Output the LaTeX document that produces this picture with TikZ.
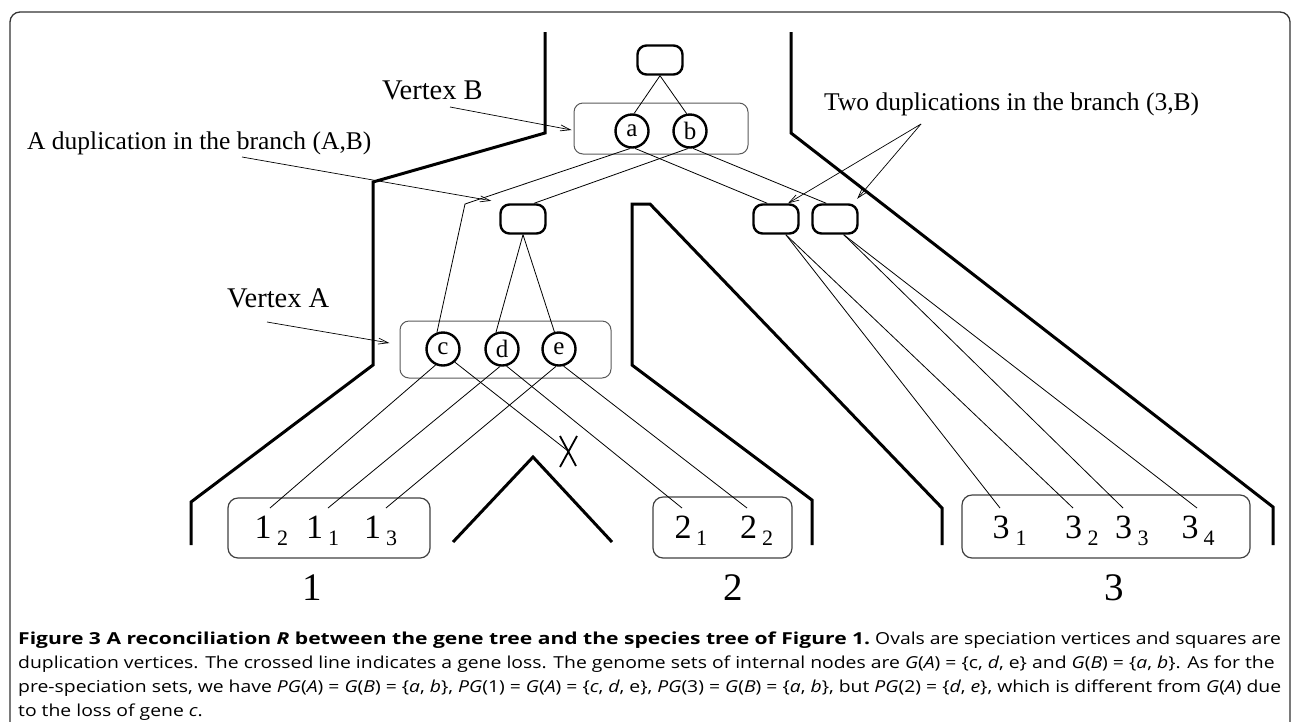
\documentclass[tikz,border=0pt]{standalone}
\usepackage{fontspec}
\usepackage{graphicx}
\setmainfont{Liberation Serif}
\newfontfamily\capfont{Open Sans}
\usetikzlibrary{arrows.meta,calc}
\newsavebox\capbold
\newsavebox\capone
\newsavebox\captwo
\newsavebox\capthree
\newsavebox\capfour
\newdimen\capw
\newdimen\capbw
\newcommand\cfs{\capfont\fontsize{16.5}{20}\selectfont}
\begin{document}
\sbox\capbold{\cfs\textbf{Figure 3 A reconciliation \textit{R} between the gene tree and the species tree of Figure 1.}}%
\sbox\capone{\cfs\ Ovals are speciation vertices and squares are}%
\sbox\captwo{\cfs duplication vertices. The crossed line indicates a gene loss. The genome sets of internal nodes are \textit{G}(\textit{A}) = \{c, \textit{d}, e\} and \textit{G}(\textit{B}) = \{\textit{a}, \textit{b}\}. As for the}%
\sbox\capthree{\cfs pre-speciation sets, we have \textit{PG}(\textit{A}) = \textit{G}(\textit{B}) = \{\textit{a}, \textit{b}\}, \textit{PG}(1) = \textit{G}(\textit{A}) = \{\textit{c}, \textit{d}, e\}, \textit{PG}(3) = \textit{G}(\textit{B}) = \{\textit{a}, \textit{b}\}, but \textit{PG}(2) = \{\textit{d}, \textit{e}\}, which is different from \textit{G}(\textit{A}) due}%
\sbox\capfour{\cfs to the loss of gene \textit{c}.}%
\capw=\wd\capthree
\capbw=\wd\capbold
\pgfmathsetmacro\capsx{1263/\capw}%
\pgfmathsetmacro\capbx{852/\capbw}%
\begin{tikzpicture}[x=1pt,y=-1pt,
  sp/.style={line width=3pt, line join=miter, line cap=butt},
  gl/.style={line width=0.8pt},
  dup/.style={draw, rounded corners=9pt, minimum width=45pt, minimum height=29pt, line width=2.4pt, inner sep=0pt},
  spc/.style={draw, circle, minimum size=33pt, inner sep=0pt, line width=2.4pt, font=\fontsize{25}{25}\selectfont},
  vbox/.style={draw=black!65, rounded corners=9pt, line width=1pt, inner sep=0pt},
  lbox/.style={draw=black!75, rounded corners=10pt, line width=1.2pt, inner sep=0pt},
  lab/.style={font=\fontsize{25.5}{26}\selectfont, inner sep=0pt, anchor=base west},
  vlab/.style={font=\fontsize{28.5}{29}\selectfont, inner sep=0pt, anchor=base west},
  ld/.style={font=\fontsize{34}{34}\selectfont, inner sep=0pt, anchor=base},
  ls/.style={font=\fontsize{22}{22}\selectfont, inner sep=0pt, anchor=base},
  sl/.style={font=\fontsize{39}{39}\selectfont, inner sep=0pt, anchor=base},
  arr/.style={line width=0.7pt, -{Straight Barb[length=10pt,width=6pt]}},
  captxt/.style={inner sep=0pt, anchor=base west}
]
\useasboundingbox (0,0) rectangle (1292,721);
\begin{scope}
\clip (0,0) rectangle (1292,721);
\draw[line width=1.3pt, black!80, rounded corners=10pt] (10,12) rectangle (1290,770);
\end{scope}

% species tree outline
\draw[sp] (545,32) -- (545,133) -- (373,182) -- (373,365) -- (191,502) -- (191,545);
\draw[sp] (791,32) -- (791,133) -- (1273,507) -- (1273,545);
\draw[sp] (812,545) -- (812,500) -- (632,365) -- (632,204) -- (650,204) -- (942,508) -- (942,545);
\draw[sp] (453,542) -- (533,457) -- (612,542);

% nodes
\node[dup] (root) at (660,60) {};
\node[vbox, minimum width=174pt, minimum height=51pt] (VB) at (661,128.5) {};
\node[spc] (a) at (632,131) {a};
\node[spc] (b) at (690,131) {b};
\node[dup] (dAB) at (523,219) {};
\node[dup] (d3a) at (776,219) {};
\node[dup] (d3b) at (835,219) {};
\node[vbox, minimum width=211pt, minimum height=57pt] (VA) at (505.5,349.5) {};
\node[spc] (c) at (443,349) {c};
\node[spc] (d) at (502,349) {d};
\node[spc] (e) at (559,349) {e};

\node[lbox, minimum width=202pt, minimum height=60pt] (L1) at (329,528) {};
\node[lbox, minimum width=139pt, minimum height=61pt] (L2) at (722.5,527.5) {};
\node[lbox, minimum width=288pt, minimum height=63pt] (L3) at (1106,526.5) {};

\node[ld] (t12) at (263,538) {1}; \node[ls] (s12) at (282.5,545) {2};
\node[ld] (t11) at (314.5,538) {1}; \node[ls] (s11) at (333.5,545) {1};
\node[ld] (t13) at (372.5,538) {1}; \node[ls] (s13) at (391.5,545) {3};
\node[ld] (t21) at (683,538) {2}; \node[ls] (s21) at (701.5,545) {1};
\node[ld] (t22) at (748.5,538) {2}; \node[ls] (s22) at (767.5,545) {2};
\node[ld] (t31) at (1001,538) {3}; \node[ls] (s31) at (1021,545) {1};
\node[ld] (t32) at (1073.5,538) {3}; \node[ls] (s32) at (1093,545) {2};
\node[ld] (t33) at (1123.5,538) {3}; \node[ls] (s33) at (1143,545) {3};
\node[ld] (t34) at (1190,538) {3}; \node[ls] (s34) at (1209,545) {4};

\node[sl] (sp1) at (312.5,600) {1};
\node[sl] (sp2) at (733.5,600) {2};
\node[sl] (sp3) at (1114.5,600) {3};

% gene tree connectors
\coordinate (bend) at (465,204);
\coordinate (l12) at (270,508);
\coordinate (l11) at (328,508);
\coordinate (l13) at (386,508);
\coordinate (l21) at (682,508);
\coordinate (l22) at (747,508);
\coordinate (l31) at (1000,508);
\coordinate (l32) at (1073,508);
\coordinate (l33) at (1123,508);
\coordinate (l34) at (1197,508);
\coordinate (loss) at (568,451);

\draw[gl] (root.south) -- (a.83);
\draw[gl] (root.south) -- (b.101);
\draw[gl] (a.-97) -- (bend) -- (c.110);
\draw[gl] (b.-97) -- (dAB.55);
\draw[gl] (dAB.south) -- (d.110);
\draw[gl] (dAB.south) -- (e.105);
\draw[gl] (a.-80) -- (d3a.119);
\draw[gl] (b.-80) -- (d3b.119);
\draw[gl] (c.-115) -- (l12);
\draw[gl] (d.-97) -- (l11);
\draw[gl] (e.-100) -- (l13);
\draw[gl] (c.-48) -- (loss);
\draw[gl] (d.-75) -- (l21);
\draw[gl] (e.-75) -- (l22);
\draw[gl] (d3a.-58) -- (l31);
\draw[gl] (d3a.-58) -- (l32);
\draw[gl] (d3b.-61) -- (l33);
\draw[gl] (d3b.-61) -- (l34);
\draw[line width=1.8pt] ($(loss)+(-8,-15)$) -- ($(loss)+(8,15)$)
                        ($(loss)+(9,-15)$) -- ($(loss)+(-8,16)$);

% labels
\node[vlab] (tVB) at (382,99.5) {Vertex B};
\node[lab] (tAB) at (27,149.5) {A duplication in the branch (A,B)};
\node[vlab] (tVA) at (227,307.5) {Vertex A};
\node[lab] (t3B) at (824,110) {Two duplications in the branch (3,B)};

\coordinate (aVB) at (450,107);
\coordinate (aAB) at (242,157);
\coordinate (aVA) at (267,322);
\coordinate (a3B) at (921,124);
\draw[arr] (aVB) -- ($(VB.west)+(-2,1.5)$);
\draw[arr] (aAB) -- ($(dAB.north west)+(-8,-2.5)$);
\draw[arr] (aVA) -- ($(VA.west)+(-10,-6.5)$);
\draw[arr] (a3B) -- ($(d3a.north)+(12,0)$);
\draw[arr] (a3B) -- ($(d3b.north east)+(-1.5,-4.5)$);

% caption
\node[captxt] (cap1) at (18,644) {\scalebox{\capbx}[1]{\usebox\capbold}\scalebox{\capsx}[1]{\usebox\capone}};
\node[captxt] (cap2) at (18,668) {\scalebox{\capsx}[1]{\usebox\captwo}};
\node[captxt] (cap3) at (18,692) {\scalebox{\capsx}[1]{\usebox\capthree}};
\node[captxt] (cap4) at (18,716) {\scalebox{\capsx}[1]{\usebox\capfour}};
\end{tikzpicture}
\end{document}
